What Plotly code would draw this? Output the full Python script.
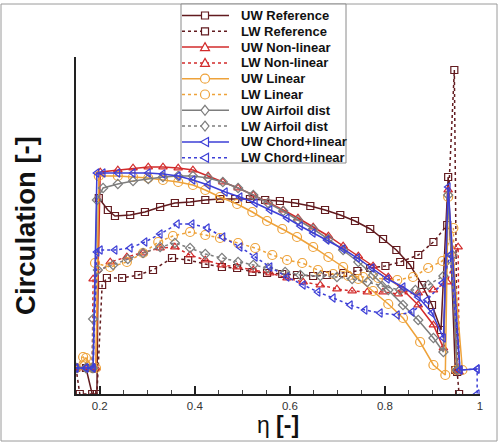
import plotly.graph_objects as go

# ---------------- data (eta, circulation in arbitrary units) ----------------
ETA_UW_REF = [0.150, 0.171, 0.184, 0.194, 0.198, 0.217, 0.232, 0.264, 0.295, 0.327, 0.358, 0.390, 0.422, 0.453,
              0.485, 0.516, 0.548, 0.579, 0.611, 0.643, 0.674, 0.706, 0.737, 0.769, 0.796, 0.824, 0.853,
              0.878, 0.899, 0.918, 0.933, 0.948, 0.954]
GAM_UW_REF = [0.26, 0.26, 0.00, 0.00, 1.96, 1.84, 1.78, 1.79, 1.82, 1.87, 1.91, 1.92, 1.94, 1.95,
              1.95, 1.95, 1.94, 1.93, 1.91, 1.88, 1.84, 1.79, 1.73, 1.65, 1.55, 1.44, 1.29,
              1.09, 0.89, 0.64, 2.17, 0.24, 0.24]

ETA_LW_REF = [0.150, 0.158, 0.194, 0.205, 0.215, 0.247, 0.281, 0.312, 0.352, 0.386, 0.422, 0.457, 0.489,
              0.521, 0.552, 0.584, 0.615, 0.649, 0.678, 0.712, 0.742, 0.769, 0.801, 0.832, 0.870, 0.902,
              0.931, 0.946, 0.952, 0.956]
GAM_LW_REF = [0.26, 0.00, 0.00, 1.09, 1.16, 1.16, 1.19, 1.24, 1.36, 1.34, 1.30, 1.27, 1.26,
              1.22, 1.21, 1.20, 1.19, 1.18, 1.19, 1.21, 1.23, 1.26, 1.28, 1.32, 1.39, 1.52,
              1.69, 3.24, 0.22, 0.00]

ETA_UW_NL = [0.150, 0.171, 0.186, 0.192, 0.201, 0.238, 0.270, 0.302, 0.333, 0.365, 0.396, 0.428, 0.459,
             0.491, 0.523, 0.554, 0.586, 0.617, 0.649, 0.681, 0.712, 0.744, 0.775, 0.807, 0.838, 0.870,
             0.902, 0.923, 0.933, 0.952]
GAM_UW_NL = [0.26, 0.27, 0.26, 0.26, 2.22, 2.24, 2.26, 2.27, 2.27, 2.26, 2.24, 2.18, 2.12,
             2.06, 1.99, 1.92, 1.84, 1.76, 1.67, 1.58, 1.48, 1.38, 1.28, 1.17, 1.04, 0.89,
             0.69, 0.46, 2.04, 0.24]

ETA_LW_NL = [0.150, 0.171, 0.184, 0.186, 0.222, 0.257, 0.291, 0.327, 0.358, 0.390, 0.422, 0.457, 0.489,
             0.523, 0.558, 0.594, 0.628, 0.664, 0.699, 0.731, 0.763, 0.796, 0.828, 0.870, 0.902, 0.931,
             0.954, 0.956]
GAM_LW_NL = [0.26, 0.26, 0.26, 1.15, 1.32, 1.37, 1.41, 1.46, 1.47, 1.39, 1.34, 1.29, 1.27,
             1.24, 1.21, 1.16, 1.12, 1.09, 1.05, 1.03, 1.02, 1.02, 1.00, 1.01, 1.04, 1.12,
             1.47, 0.22]

ETA_UW_LIN = [0.150, 0.171, 0.186, 0.192, 0.198, 0.238, 0.270, 0.302, 0.333, 0.365, 0.396, 0.422, 0.453,
              0.489, 0.521, 0.552, 0.584, 0.615, 0.649, 0.681, 0.712, 0.744, 0.775, 0.807, 0.838, 0.874,
              0.902, 0.927, 0.933, 0.963]
GAM_UW_LIN = [0.26, 0.36, 0.26, 0.26, 2.18, 2.18, 2.17, 2.16, 2.14, 2.12, 2.09, 2.04, 1.97,
              1.90, 1.82, 1.73, 1.65, 1.57, 1.47, 1.37, 1.27, 1.15, 1.03, 0.90, 0.76, 0.52,
              0.29, 0.19, 1.97, 0.24]

ETA_LW_LIN = [0.150, 0.165, 0.184, 0.190, 0.222, 0.257, 0.291, 0.323, 0.354, 0.390, 0.422, 0.453, 0.491,
              0.527, 0.563, 0.594, 0.626, 0.659, 0.691, 0.723, 0.754, 0.786, 0.826, 0.859, 0.891, 0.921,
              0.944, 0.950]
GAM_LW_LIN = [0.26, 0.37, 0.26, 1.31, 1.27, 1.32, 1.41, 1.52, 1.58, 1.62, 1.59, 1.56, 1.51,
              1.46, 1.39, 1.34, 1.31, 1.24, 1.20, 1.18, 1.17, 1.16, 1.14, 1.17, 1.26, 1.33,
              1.66, 0.24]

ETA_UW_AF = [0.150, 0.171, 0.186, 0.194, 0.207, 0.238, 0.270, 0.302, 0.333, 0.365, 0.396, 0.428, 0.459,
             0.491, 0.523, 0.554, 0.586, 0.617, 0.649, 0.681, 0.712, 0.744, 0.775, 0.807, 0.838, 0.870,
             0.902, 0.923, 0.933, 0.952]
GAM_UW_AF = [0.26, 0.26, 0.26, 1.94, 2.06, 2.10, 2.13, 2.15, 2.17, 2.18, 2.18, 2.16, 2.12,
             2.06, 1.99, 1.91, 1.83, 1.74, 1.65, 1.55, 1.44, 1.32, 1.19, 1.04, 0.89, 0.74,
             0.56, 0.42, 1.99, 0.24]

ETA_LW_AF = [0.150, 0.171, 0.184, 0.186, 0.196, 0.228, 0.259, 0.291, 0.327, 0.358, 0.390, 0.422, 0.457,
             0.491, 0.523, 0.554, 0.590, 0.622, 0.664, 0.699, 0.731, 0.763, 0.794, 0.832, 0.864, 0.891,
             0.923, 0.942, 0.952]
GAM_LW_AF = [0.26, 0.26, 0.26, 0.75, 1.24, 1.29, 1.35, 1.41, 1.47, 1.51, 1.46, 1.40, 1.36,
             1.32, 1.29, 1.26, 1.22, 1.19, 1.18, 1.17, 1.15, 1.12, 1.08, 1.04, 1.04, 1.09,
             1.18, 1.39, 0.24]

ETA_UW_CL = [0.150, 0.171, 0.186, 0.194, 0.207, 0.238, 0.270, 0.302, 0.333, 0.365, 0.396, 0.428, 0.464,
             0.495, 0.527, 0.558, 0.594, 0.622, 0.649, 0.678, 0.712, 0.742, 0.773, 0.805, 0.838, 0.870,
             0.899, 0.923, 0.933, 0.958, 0.994]
GAM_UW_CL = [0.26, 0.26, 0.26, 2.21, 2.21, 2.21, 2.21, 2.21, 2.20, 2.18, 2.14, 2.09, 2.02,
             1.97, 1.91, 1.84, 1.76, 1.68, 1.61, 1.54, 1.45, 1.36, 1.26, 1.15, 1.07, 0.97,
             0.81, 0.56, 2.07, 0.24, 0.25]

ETA_LW_CL = [0.150, 0.171, 0.186, 0.194, 0.201, 0.232, 0.264, 0.295, 0.327, 0.363, 0.394, 0.426, 0.459,
             0.495, 0.527, 0.558, 0.594, 0.628, 0.659, 0.691, 0.727, 0.758, 0.790, 0.826, 0.857, 0.889,
             0.921, 0.937, 0.958, 0.994, 0.994]
GAM_LW_CL = [0.26, 0.26, 0.26, 1.42, 1.44, 1.44, 1.46, 1.52, 1.60, 1.70, 1.70, 1.66, 1.57,
             1.47, 1.37, 1.27, 1.17, 1.09, 1.02, 0.96, 0.89, 0.84, 0.81, 0.79, 0.82, 0.94,
             1.11, 1.39, 0.24, 0.25, 0.00]

SERIES_NAMES = ["UW Reference", "LW Reference", "UW Non-linear", "LW Non-linear", "UW Linear",
                "LW Linear", "UW Airfoil dist", "LW Airfoil dist", "UW Chord+linear", "LW Chord+linear"]

X_TICK_VALS = [0.2, 0.4, 0.6, 0.8, 1.0]
X_TICK_TEXT = ["0.2", "0.4", "0.6", "0.8", "1"]

# ---------------- styling ----------------
MAROON = "#621b1f"
RED = "#d22b2b"
ORANGE = "#eea23a"
GRAY = "#7d7d7d"
BLUE = "#3d3fd6"

series = [
    (ETA_UW_REF, GAM_UW_REF, MAROON, "solid", "square-open", 7, "square"),
    (ETA_LW_REF, GAM_LW_REF, MAROON, "dot", "square-open", 7, "square"),
    (ETA_UW_NL, GAM_UW_NL, RED, "solid", "triangle-up-open", 7.5, "tri_up"),
    (ETA_LW_NL, GAM_LW_NL, RED, "dot", "triangle-up-open", 7.5, "tri_up"),
    (ETA_UW_LIN, GAM_UW_LIN, ORANGE, "solid", "circle-open", 9, "circle"),
    (ETA_LW_LIN, GAM_LW_LIN, ORANGE, "dot", "circle-open", 9, "circle"),
    (ETA_UW_AF, GAM_UW_AF, GRAY, "solid", "diamond-open", 7, "diamond"),
    (ETA_LW_AF, GAM_LW_AF, GRAY, "dot", "diamond-open", 7, "diamond"),
    (ETA_UW_CL, GAM_UW_CL, BLUE, "solid", "triangle-left-open", 7.5, "tri_left"),
    (ETA_LW_CL, GAM_LW_CL, BLUE, "dot", "triangle-left-open", 7.5, "tri_left"),
]

W, H = 499, 443
L, R, T, B = 76, 19, 57, 49
PW, PH = W - L - R, H - T - B
FONT = "Liberation Sans, Arial, sans-serif"

fig = go.Figure()
for (xs, ys, col, dash, sym, size, _), name in zip(series, SERIES_NAMES):
    fig.add_trace(go.Scatter(
        x=xs, y=ys, name=name, mode="lines+markers", showlegend=False,
        line=dict(color=col, width=1.5, dash=dash),
        marker=dict(symbol=sym, size=size, color=col, line=dict(color=col, width=1.2)),
    ))


def pxx(px):
    return (px - L) / PW


def pxy(py):
    return (H - B - py) / PH


shapes = []
annotations = []

# outer frame
shapes.append(dict(type="rect", xref="paper", yref="paper", x0=pxx(1), x1=pxx(497), y0=pxy(441), y1=pxy(4),
                   line=dict(color="#9a9a9a", width=1), fillcolor="rgba(0,0,0,0)", layer="above"))

# manual legend (compact Tecplot-style box)
LEG_X0, LEG_X1, LEG_Y0, LEG_Y1 = 181, 346, 4, 163
shapes.append(dict(type="rect", xref="paper", yref="paper", x0=pxx(LEG_X0), x1=pxx(LEG_X1),
                   y0=pxy(LEG_Y1), y1=pxy(LEG_Y0), line=dict(color="#8a8a8a", width=1),
                   fillcolor="white", layer="above"))


def poly(pts):
    return "M " + " L ".join(f"{pxx(a):.5f},{pxy(b):.5f}" for a, b in pts) + " Z"


for i, ((xs, ys, col, dash, sym, size, kind), name) in enumerate(zip(series, SERIES_NAMES)):
    yc = 15.5 + i * 15.8
    shapes.append(dict(type="line", xref="paper", yref="paper", x0=pxx(182), x1=pxx(229), y0=pxy(yc), y1=pxy(yc),
                       line=dict(color=col, width=1.5, dash=dash), layer="above"))
    mx = 205
    if kind == "square":
        path = poly([(mx - 3.5, yc - 3.5), (mx + 3.5, yc - 3.5), (mx + 3.5, yc + 3.5), (mx - 3.5, yc + 3.5)])
        shapes.append(dict(type="path", xref="paper", yref="paper", path=path, fillcolor="white",
                           line=dict(color=col, width=1.2), layer="above"))
    elif kind == "circle":
        shapes.append(dict(type="circle", xref="paper", yref="paper", x0=pxx(mx - 4.5), x1=pxx(mx + 4.5),
                           y0=pxy(yc + 4.5), y1=pxy(yc - 4.5), fillcolor="white",
                           line=dict(color=col, width=1.2), layer="above"))
    elif kind == "tri_up":
        path = poly([(mx, yc - 4.5), (mx + 4.5, yc + 3.5), (mx - 4.5, yc + 3.5)])
        shapes.append(dict(type="path", xref="paper", yref="paper", path=path, fillcolor="white",
                           line=dict(color=col, width=1.2), layer="above"))
    elif kind == "diamond":
        path = poly([(mx, yc - 5), (mx + 4, yc), (mx, yc + 5), (mx - 4, yc)])
        shapes.append(dict(type="path", xref="paper", yref="paper", path=path, fillcolor="white",
                           line=dict(color=col, width=1.2), layer="above"))
    else:
        path = poly([(mx - 4.5, yc), (mx + 3.5, yc - 4.5), (mx + 3.5, yc + 4.5)])
        shapes.append(dict(type="path", xref="paper", yref="paper", path=path, fillcolor="white",
                           line=dict(color=col, width=1.2), layer="above"))
    annotations.append(dict(xref="paper", yref="paper", x=pxx(239), y=pxy(yc), xanchor="left", yanchor="middle",
                            text=f"<b>{name}</b>", showarrow=False,
                            font=dict(family=FONT, size=13, color="#111111")))

fig.update_layout(
    width=W, height=H,
    margin=dict(l=L, r=R, t=T, b=B, pad=0),
    paper_bgcolor="white", plot_bgcolor="white",
    font=dict(family=FONT, color="#222222"),
    showlegend=False,
    hovermode=False,
    shapes=shapes,
    annotations=annotations,
    xaxis=dict(
        range=[0.15, 1.0], showgrid=False, zeroline=False,
        showline=True, linecolor="#222222", linewidth=2,
        tickmode="array", tickvals=X_TICK_VALS, ticktext=X_TICK_TEXT,
        ticks="inside", ticklen=8, tickwidth=2, tickcolor="#222222",
        minor=dict(ticks="inside", ticklen=4, tickwidth=1, dtick=0.05, tick0=0, tickcolor="#444444", showgrid=False),
        tickfont=dict(size=11.5, color="#333333", family=FONT),
        title=dict(text="η <b>[-]</b>", font=dict(size=23, color="#111111", family=FONT), standoff=6),
        automargin=False,
    ),
    yaxis=dict(
        range=[0, 3.37], showgrid=False, zeroline=False,
        showline=True, linecolor="#222222", linewidth=2,
        showticklabels=False, ticks="",
        title=dict(text="<b>Circulation [-]</b>", font=dict(size=27.5, color="#111111", family=FONT), standoff=30),
        automargin=False,
    ),
)

fig.write_html("out.html", config={"displayModeBar": False, "staticPlot": True},
               post_script="document.body.style.margin='0px';document.body.style.padding='0px';")
